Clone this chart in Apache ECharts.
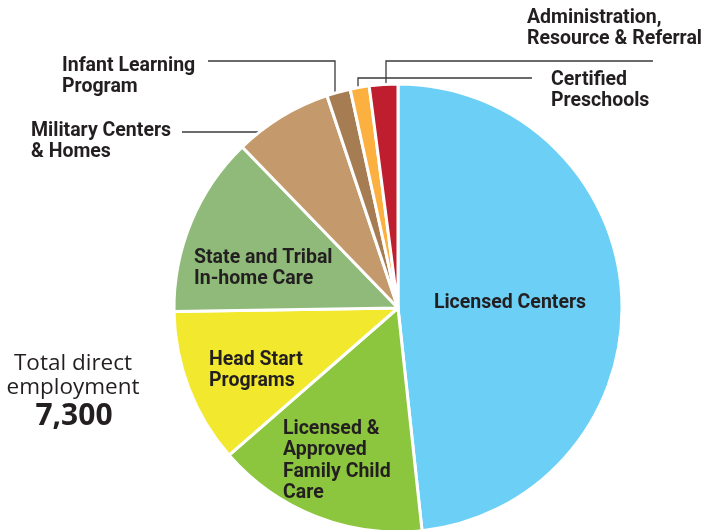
<!DOCTYPE html>
<html>
<head>
<meta charset="utf-8">
<script src="https://cdn.jsdelivr.net/npm/echarts@6/dist/echarts.min.js"></script>
<style>
  html, body { margin: 0; padding: 0; background: #fff; }
  #main { width: 702px; height: 530px; }
</style>
</head>
<body>
<div id="main"></div>
<script>
// 各类别及就业人数
let categories = [
    'Licensed Centers',
    'Licensed &\nApproved\nFamily Child\nCare',
    'Head Start\nPrograms',
    'State and Tribal\nIn-home Care',
    'Military Centers\n& Homes',
    'Infant Learning\nProgram',
    'Certified\nPreschools',
    'Administration,\nResource & Referral'
];
let employment = [3525, 1117, 815, 950, 518, 125, 100, 150];
let colors = ['#6bcff6', '#8cc63f', '#f2e82e', '#8fba7a', '#c49a6c', '#a67c52', '#fbb040', '#be1e2d'];
let totalText = '7,300';

// 标签位置（左上角）和引线
let labelPos = [
    { x: 510, y: 303, align: 'center', verticalAlign: 'middle' },
    { x: 283, y: 418, align: 'left', verticalAlign: 'top' },
    { x: 209, y: 349, align: 'left', verticalAlign: 'top' },
    { x: 194, y: 247, align: 'left', verticalAlign: 'top' },
    { x: 31, y: 120, align: 'left', verticalAlign: 'top', line: [[306, 132], [244, 132], [182, 132]] },
    { x: 62, y: 55, align: 'left', verticalAlign: 'top', line: [[335, 100], [335, 61], [208, 61]] },
    { x: 551, y: 69, align: 'left', verticalAlign: 'top', line: [[358, 95], [358, 78], [532, 78]] },
    { x: 527, y: 7, align: 'left', verticalAlign: 'top', line: [[386, 102], [386, 61], [653, 61]] }
];

let chart = echarts.init(document.getElementById('main'));
let pieData = categories.map(function (name, i) {
    let outside = !!labelPos[i].line;
    return {
        name: name,
        value: employment[i],
        itemStyle: { color: colors[i] },
        label: { position: outside ? 'outside' : 'inside' },
        labelLine: { show: outside }
    };
});

let option = {
    backgroundColor: '#fff',
    animation: false,
    graphic: [
        {
            type: 'text',
            x: 73, y: 352,
            style: {
                text: 'Total direct\nemployment',
                font: '22.5px "Open Sans", sans-serif',
                lineHeight: 24,
                fill: '#231f20',
                align: 'center',
                verticalAlign: 'top'
            }
        },
        {
            type: 'text',
            x: 74, y: 401,
            style: {
                text: totalText,
                font: 'bold 30px "Open Sans", sans-serif',
                fill: '#231f20',
                align: 'center',
                verticalAlign: 'top'
            }
        }
    ],
    series: [{
        type: 'pie',
        center: [398, 308],
        radius: 224,
        startAngle: 90,
        clockwise: true,
        avoidLabelOverlap: false,
        itemStyle: { borderColor: '#fff', borderWidth: 3 },
        label: {
            show: true,
            color: '#231f20',
            fontFamily: 'Roboto, sans-serif',
            fontWeight: 'bold',
            fontSize: 19.5,
            lineHeight: 21.5,
            formatter: '{b}'
        },
        labelLine: {
            lineStyle: { color: '#3a3a3a', width: 1.3 }
        },
        labelLayout: function (params) {
            let p = labelPos[params.dataIndex];
            let res = { x: p.x, y: p.y, align: p.align, verticalAlign: p.verticalAlign };
            if (p.line) res.labelLinePoints = p.line;
            return res;
        },
        emphasis: { disabled: true },
        data: pieData
    }]
};
chart.setOption(option);
</script>
</body>
</html>
